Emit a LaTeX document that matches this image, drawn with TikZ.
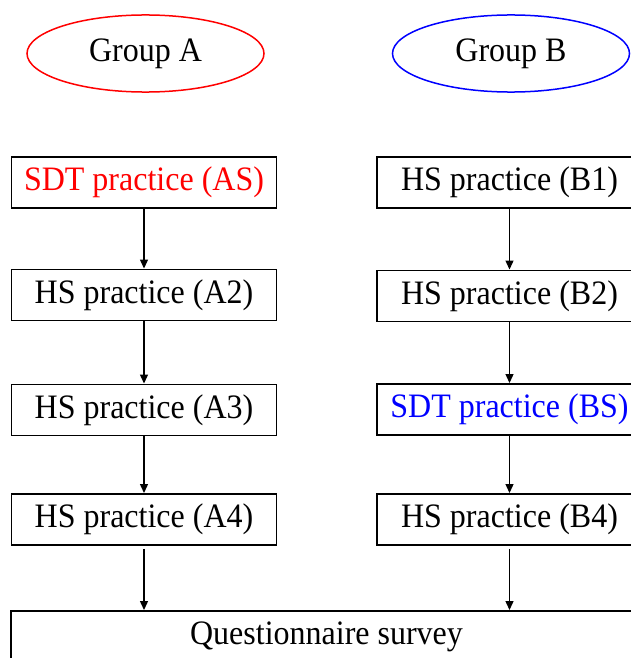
\documentclass[tikz,border=0pt]{standalone}
\usepackage{fontspec}
\setmainfont{Liberation Serif}
\usetikzlibrary{arrows.meta,shapes.geometric}
\tikzset{>={Triangle[length=9pt,width=8pt]},
  every node/.style={font=\fontsize{32}{38}\selectfont,yscale=1.07,transform shape},
  grp/.style={ellipse,draw,line width=1.5pt,minimum width=237pt,minimum height=72pt,inner sep=0pt},
  box/.style={rectangle,draw,line width=1.8pt,minimum width=265pt,minimum height=47.7pt,inner sep=0pt},
  flow/.style={->,line width=1.3pt}}
\begin{document}
\begin{tikzpicture}[x=1pt,y=-1pt]
\useasboundingbox (0,0) rectangle (631,658);
\node[grp,draw=red] (ga) at (145.5,53.5) {Group A};
\node[grp,draw=blue] (gb) at (511,53.5) {Group B};
\node[box,text=red] (as) at (144,182.5) {SDT practice (AS)};
\node[box] (a2) at (144,295) {HS practice (A2)};
\node[box] (a3) at (144,410) {HS practice (A3)};
\node[box] (a4) at (144,519.5) {HS practice (A4)};
\node[box] (b1) at (509.5,182.5) {HS practice (B1)};
\node[box] (b2) at (509.5,296) {HS practice (B2)};
\node[box,text=blue] (bs) at (509.5,409.5) {SDT practice (BS)};
\node[box] (b4) at (509.5,519.5) {HS practice (B4)};
\node[box,minimum width=631pt] (qs) at (326.5,636.5) {Questionnaire survey};
\draw[flow] (as)--(a2);\draw[flow] (a2)--(a3);\draw[flow] (a3)--(a4);
\draw[flow] (b1)--(b2);\draw[flow] (b2)--(bs);\draw[flow] (bs)--(b4);
\draw[flow] ([yshift=-3pt]a4.south)--(a4.south |- qs.north);
\draw[flow] ([yshift=-3pt]b4.south)--(b4.south |- qs.north);
\end{tikzpicture}
\end{document}
